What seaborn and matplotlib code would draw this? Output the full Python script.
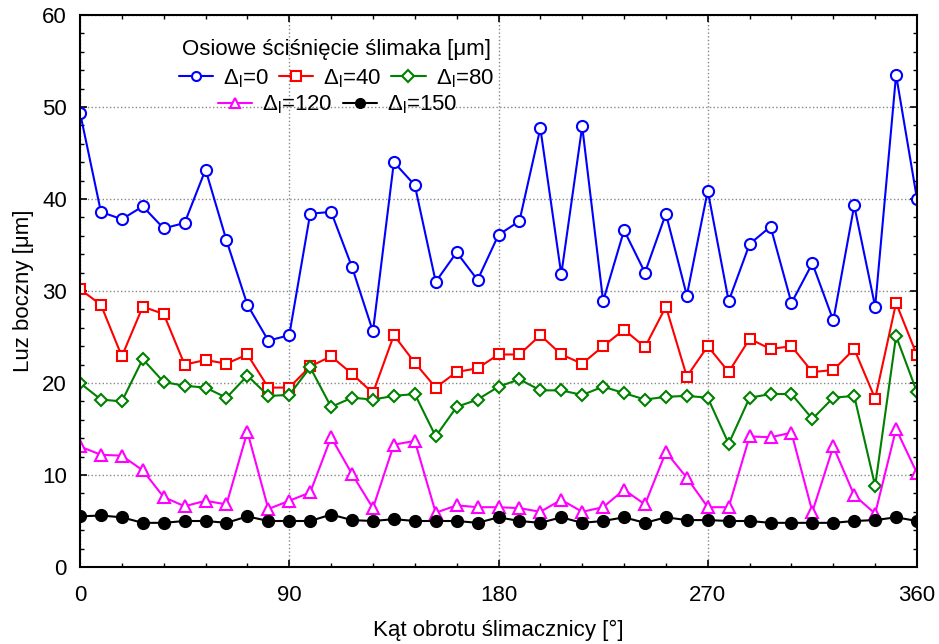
import numpy as np
import pandas as pd
import matplotlib
matplotlib.use("Agg")
import matplotlib.pyplot as plt
import seaborn as sns
from matplotlib.ticker import MultipleLocator

angles = list(range(0, 361, 9))

d0 = [49.4, 38.6, 37.8, 39.2, 36.8, 37.4, 43.2, 35.5, 28.5, 24.6, 25.2,
      38.4, 38.6, 32.6, 25.6, 44.0, 41.5, 31.0, 34.2, 31.2, 36.1, 37.6,
      47.7, 31.8, 47.9, 28.9, 36.6, 32.0, 38.4, 29.5, 40.9, 28.9, 35.1,
      37.0, 28.7, 33.0, 26.8, 39.3, 28.3, 53.5, 40.0]
d40 = [30.2, 28.5, 22.9, 28.3, 27.5, 22.0, 22.5, 22.1, 23.1, 19.5, 19.5,
       21.8, 22.9, 21.0, 18.9, 25.2, 22.2, 19.5, 21.2, 21.6, 23.1, 23.1,
       25.2, 23.1, 22.1, 24.0, 25.8, 23.9, 28.3, 20.7, 24.0, 21.2, 24.8,
       23.7, 24.0, 21.2, 21.4, 23.7, 18.3, 28.7, 23.0]
d80 = [20.0, 18.2, 18.0, 22.6, 20.1, 19.7, 19.5, 18.4, 20.8, 18.6, 18.7,
       21.7, 17.4, 18.4, 18.2, 18.6, 18.8, 14.2, 17.4, 18.2, 19.6, 20.4,
       19.2, 19.2, 18.7, 19.6, 18.9, 18.2, 18.5, 18.6, 18.4, 13.4, 18.4,
       18.8, 18.8, 16.1, 18.4, 18.6, 8.8, 25.1, 19.0]
d120 = [13.1, 12.2, 12.1, 10.5, 7.6, 6.6, 7.2, 6.8, 14.7, 6.3, 7.2,
        8.1, 14.1, 10.1, 6.4, 13.3, 13.7, 5.9, 6.7, 6.5, 6.5, 6.4,
        6.0, 7.3, 6.0, 6.5, 8.4, 6.8, 12.5, 9.7, 6.5, 6.5, 14.2,
        14.1, 14.6, 6.0, 13.1, 7.8, 5.8, 15.0, 10.2]
d150 = [5.5, 5.6, 5.4, 4.8, 4.8, 5.0, 5.0, 4.8, 5.5, 5.0, 5.0,
        5.0, 5.7, 5.1, 5.0, 5.2, 5.0, 5.0, 5.0, 4.8, 5.4, 5.0,
        4.8, 5.4, 4.8, 5.0, 5.4, 4.8, 5.4, 5.1, 5.1, 5.0, 5.0,
        4.8, 4.8, 4.8, 4.8, 5.0, 5.1, 5.4, 5.0]

labels = ["0", "40", "80", "120", "150"]
series = [d0, d40, d80, d120, d150]

sns.set_theme(style="ticks")
plt.rcParams['font.family'] = ['Liberation Sans', 'DejaVu Sans']
plt.rcParams['mathtext.fontset'] = 'custom'
plt.rcParams['mathtext.rm'] = 'Liberation Sans'
plt.rcParams['mathtext.it'] = 'Liberation Sans:italic'
for k in ['text.color', 'axes.labelcolor', 'xtick.color', 'ytick.color',
          'axes.edgecolor']:
    plt.rcParams[k] = 'black'

FS = 16

fig = plt.figure(figsize=(9.39, 6.44), dpi=100)
ax = fig.add_axes([80/939, 1-567/644, (917-80)/939, (567-15)/644])

styles = [
    dict(color="#0000ff", marker="o", markersize=8, markerfacecolor="white"),
    dict(color="#ff0000", marker="s", markersize=7.5, markerfacecolor="white"),
    dict(color="#008000", marker="D", markersize=6, markerfacecolor="white"),
    dict(color="#ff00ff", marker="^", markersize=8, markerfacecolor="white"),
    dict(color="#000000", marker="o", markersize=8, markerfacecolor="black"),
]

handles = []
for lab, vals, st in zip(labels, series, styles):
    df = pd.DataFrame({"x": angles, "y": vals})
    sns.lineplot(data=df, x="x", y="y", ax=ax, color=st["color"], lw=1.5,
                 marker=st["marker"], markersize=st["markersize"],
                 markerfacecolor=st["markerfacecolor"],
                 markeredgecolor=st["color"], markeredgewidth=1.5,
                 label="Δ$_\\mathrm{l}$=" + lab, legend=False)
    handles.append(ax.lines[-1])

ax.set_xlim(0, 360)
ax.set_ylim(0, 60)
ax.xaxis.set_major_locator(MultipleLocator(90))
ax.xaxis.set_minor_locator(MultipleLocator(18))
ax.yaxis.set_major_locator(MultipleLocator(10))
ax.yaxis.set_minor_locator(MultipleLocator(2))
ax.tick_params(which="both", direction="in", top=True, right=True,
               labelsize=FS, colors="black")
ax.tick_params(which="major", length=5, width=1.2)
ax.tick_params(which="minor", length=3, width=1)
ax.tick_params(axis="x", pad=13)
ax.tick_params(axis="y", pad=9.5)
ax.grid(True, which="major", linestyle=":", color="#888888", linewidth=1)
for sp in ax.spines.values():
    sp.set_linewidth(1.5)
    sp.set_color("black")

ax.set_xlabel("Kąt obrotu ślimacznicy [°]", fontsize=FS, labelpad=10)
ax.set_ylabel("Luz boczny [μm]", fontsize=FS, labelpad=6)

leg_kw = dict(frameon=False, fontsize=FS, handlelength=1.55, handletextpad=0.45,
              columnspacing=0.45, borderpad=0.1, borderaxespad=0,
              labelspacing=0.3)
leg1 = ax.legend(handles=handles[:3], labels=[h.get_label() for h in handles[:3]],
                 ncol=3, loc="upper center", bbox_to_anchor=(0.306, 0.96),
                 title="Osiowe ściśnięcie ślimaka [μm]", title_fontsize=FS, **leg_kw)
ax.add_artist(leg1)
leg2 = ax.legend(handles=handles[3:], labels=[h.get_label() for h in handles[3:]],
                 ncol=2, loc="upper center", bbox_to_anchor=(0.308, 0.862), **leg_kw)
for lg in (leg1, leg2):
    for h in lg.legend_handles:
        h.set_markersize(6.5)

fig.savefig("out.png", dpi=100)
